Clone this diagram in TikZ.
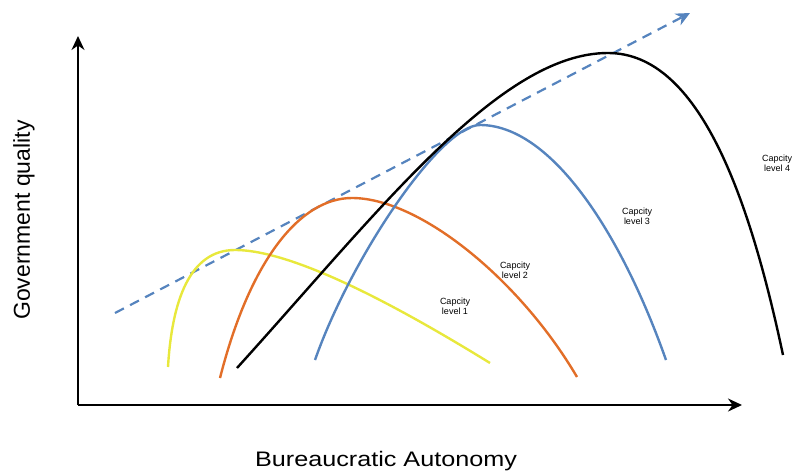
\documentclass[tikz,border=0pt]{standalone}
\usepackage{fontspec}
\setmainfont{Liberation Sans}
\usetikzlibrary{arrows.meta}
\definecolor{capyellow}{RGB}{232,232,60}
\definecolor{caporange}{RGB}{226,110,40}
\definecolor{capblue}{RGB}{86,132,190}
\begin{document}
\begin{tikzpicture}[x=1pt,y=-1pt,
    axis/.style={line width=2pt,-{Stealth[length=14pt,width=13pt]}},
    curve/.style={line width=2.4pt},
    caplabel/.style={align=center,font=\fontsize{9}{10}\selectfont}]
        \useasboundingbox (0,0) rectangle (808,474);
        \coordinate (O) at (78, 405);
        \coordinate (Ytop) at (78, 36);
        \coordinate (Xend) at (742, 405);
        \coordinate (D1) at (115, 313);
        \coordinate (D2) at (690, 13);
        \draw [axis] (O) -- (Ytop);
        \draw [axis] (O) -- (Xend);
        \draw [capblue,line width=2.2pt,dash pattern=on 10pt off 7pt,-{Stealth[length=14pt,width=13pt]}] (D1) -- (D2);
        \draw [curve,capyellow] (168,367) .. controls (172,300) and (190,250) .. (235,250) .. controls (300,250) and (420,320) .. (490,363);
        \draw [curve,caporange] (220,378) .. controls (250,260) and (300,198) .. (352,198) .. controls (420,198) and (520,280) .. (577,377);
        \draw [curve,capblue] (315,360) .. controls (350,260) and (440,125) .. (480,125) .. controls (550,125) and (620,230) .. (666,360);
        \draw [curve,black] (237,368) .. controls (380,210) and (500,53) .. (608,53) .. controls (700,53) and (750,200) .. (783,355);
        \node [caplabel] (L1) at (455,306) {Capcity\\level 1};
        \node [caplabel] (L2) at (515,270) {Capcity\\level 2};
        \node [caplabel] (L3) at (637,216) {Capcity\\level 3};
        \node [caplabel] (L4) at (777,163) {Capcity\\level 4};
        \node [rotate=90,font=\fontsize{23}{25}\selectfont] (ylab) at (24,220) {Government quality};
        \node [font=\fontsize{21}{23}\selectfont,xscale=1.2] (xlab) at (386,461) {Bureaucratic Autonomy};

    \end{tikzpicture}
\end{document}
